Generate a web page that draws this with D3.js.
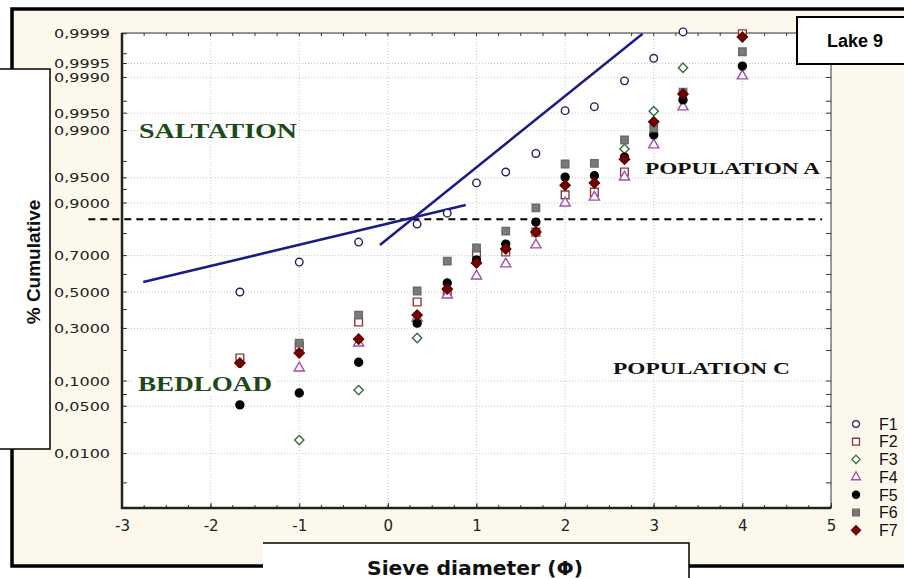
<!DOCTYPE html>
<html>
<head>
<meta charset="utf-8">
<script src="https://cdnjs.cloudflare.com/ajax/libs/d3/7.8.5/d3.min.js"></script>
<style>
  body { margin: 0; background: #fff; }
  svg { display: block; font-family: "Liberation Sans", Arial, sans-serif; }
</style>
</head>
<body>
<script>
// sieve classes (phi) and cumulative fractions per sample
var phi = [-1.67, -1, -0.33, 0.33, 0.67, 1, 1.33, 1.67, 2, 2.33, 2.67, 3, 3.33, 4];
var F1 = [0.50, 0.667, 0.764, 0.836, 0.872, 0.942, 0.958, 0.977, 0.9955, 0.9962, 0.99882, 0.99962, 0.99991, null];
var F2 = [0.171, 0.218, 0.333, 0.443, 0.50, 0.713, 0.718, 0.806, 0.919, 0.925, 0.958, null, null, 0.9999];
var F3 = [null, 0.0165, 0.079, 0.254, null, null, null, null, null, null, 0.9803, 0.9954, 0.99938, null];
var F4 = [null, 0.137, 0.231, 0.354, 0.483, 0.591, 0.657, 0.751, 0.900, 0.914, 0.951, 0.9829, 0.99616, 0.99907];
var F5 = [0.052, 0.073, 0.156, 0.327, 0.552, 0.678, 0.755, 0.843, 0.951, 0.953, 0.974, 0.9882, 0.99717, 0.99943];
var F6 = [null, 0.231, 0.370, 0.506, 0.672, 0.737, 0.810, 0.887, 0.9674, 0.968, 0.9857, 0.9909, 0.998, 0.99973];
var F7 = [0.153, 0.190, 0.249, 0.370, 0.517, 0.662, 0.732, 0.806, 0.938, 0.942, 0.972, 0.9929, 0.99783, 0.99988];
var seriesNames = ["F1", "F2", "F3", "F4", "F5", "F6", "F7"];

// y ticks (probability axis)
var yTicks = [0.9999, 0.9995, 0.999, 0.995, 0.99, 0.95, 0.9, 0.7, 0.5, 0.3, 0.1, 0.05, 0.01];
var yMinor = [0.9997, 0.997, 0.97, 0.93, 0.8, 0.6, 0.4, 0.2, 0.07, 0.03, 0.003];
var xTicks = [-3, -2, -1, 0, 1, 2, 3, 4, 5];

// fitted segments and threshold
var salLineX = [-2.76, 0.878];
var salLineP = [0.557, 0.895];
var popLineX = [-0.09, 2.874];
var popLineP = [0.751, 0.9999];
var dashX = [-3.38, 4.9];
var dashP = 0.853;

var svgWidth = 904;
var svgHeight = 578;

// inverse normal cdf (Acklam)
function probit(p) {
    var a = [-39.69683028665376, 220.9460984245205, -275.9285104469687, 138.3577518672690, -30.66479806614716, 2.506628277459239];
    var b = [-54.47609879822406, 161.5858368580409, -155.6989798598866, 66.80131188771972, -13.28068155288572];
    var c = [-0.007784894002430293, -0.3223964580411365, -2.400758277161838, -2.549732539343734, 4.374664141464968, 2.938163982698783];
    var d = [0.007784695709041462, 0.3224671290700398, 2.445134137142996, 3.754408661907416];
    var plow = 0.02425, q, r;
    if (p < plow) {
        q = Math.sqrt(-2 * Math.log(p));
        return (((((c[0]*q + c[1])*q + c[2])*q + c[3])*q + c[4])*q + c[5]) / ((((d[0]*q + d[1])*q + d[2])*q + d[3])*q + 1);
    }
    if (p <= 1 - plow) {
        q = p - 0.5; r = q * q;
        return (((((a[0]*r + a[1])*r + a[2])*r + a[3])*r + a[4])*r + a[5])*q / (((((b[0]*r + b[1])*r + b[2])*r + b[3])*r + b[4])*r + 1);
    }
    q = Math.sqrt(-2 * Math.log(1 - p));
    return -(((((c[0]*q + c[1])*q + c[2])*q + c[3])*q + c[4])*q + c[5]) / ((((d[0]*q + d[1])*q + d[2])*q + d[3])*q + 1);
}

var plot = { left: 122, right: 831, top: 33, bottom: 508 };

var xScale = d3.scaleLinear().domain([-3, 5]).range([plot.left, plot.right]);
var zScale = d3.scaleLinear().domain([-3.11, 3.73]).range([plot.bottom, plot.top]);
function yScale(p) { return zScale(probit(p)); }

var svg = d3.select("body").append("svg")
    .attr("width", svgWidth)
    .attr("height", svgHeight);

// outer beige frame
svg.append("rect")
    .attr("x", 12).attr("y", 9)
    .attr("width", 920).attr("height", 557)
    .attr("fill", "#fcf8ec")
    .attr("stroke", "#000")
    .attr("stroke-width", 3.5);

// plot background
svg.append("rect")
    .attr("x", plot.left).attr("y", plot.top)
    .attr("width", plot.right - plot.left).attr("height", plot.bottom - plot.top)
    .attr("fill", "#fff");

svg.append("clipPath").attr("id", "clip")
    .append("rect")
    .attr("x", plot.left).attr("y", plot.top)
    .attr("width", plot.right - plot.left).attr("height", plot.bottom - plot.top);

// grid
var grid = svg.append("g").attr("stroke", "#c8c8c8").attr("stroke-width", 1).attr("stroke-dasharray", "1,2");
grid.selectAll(".hg").data(yTicks).enter().append("line")
    .attr("x1", plot.left).attr("x2", plot.right)
    .attr("y1", d => yScale(d)).attr("y2", d => yScale(d));
grid.selectAll(".vg").data(xTicks.slice(1, -1)).enter().append("line")
    .attr("y1", plot.top).attr("y2", plot.bottom)
    .attr("x1", d => xScale(d)).attr("x2", d => xScale(d));

// axes
var minorX = d3.range(-3, 5.001, 0.25);
var bottomAxis = d3.axisBottom(xScale).tickValues(xTicks).tickSize(-5).tickPadding(12).tickFormat(d => String(d));
var xAxis = svg.append("g")
    .attr("transform", "translate(0," + plot.bottom + ")")
    .call(bottomAxis);
xAxis.select(".domain").remove();
xAxis.selectAll("text")
    .style("font-family", "'DejaVu Sans', Verdana, sans-serif")
    .style("font-size", "15px").attr("fill", "#222");
xAxis.selectAll("line").attr("stroke", "#333");

var tickG = svg.append("g").attr("stroke", "#333").attr("stroke-width", 1);
tickG.selectAll(".mb").data(minorX).enter().append("line")
    .attr("x1", d => xScale(d)).attr("x2", d => xScale(d))
    .attr("y1", plot.bottom).attr("y2", plot.bottom - 3);
tickG.selectAll(".mt").data(minorX).enter().append("line")
    .attr("x1", d => xScale(d)).attr("x2", d => xScale(d))
    .attr("y1", plot.top).attr("y2", plot.top + 3);
var allY = yTicks.concat(yMinor);
tickG.selectAll(".ml").data(allY).enter().append("line")
    .attr("x1", plot.left).attr("x2", plot.left + 5)
    .attr("y1", d => yScale(d)).attr("y2", d => yScale(d));
tickG.selectAll(".mr").data(allY).enter().append("line")
    .attr("x1", plot.right).attr("x2", plot.right - 5)
    .attr("y1", d => yScale(d)).attr("y2", d => yScale(d));

svg.append("g").selectAll("text").data(yTicks).enter().append("text")
    .attr("x", 54)
    .attr("y", d => yScale(d))
    .attr("dy", "0.36em")
    .attr("textLength", 56).attr("lengthAdjust", "spacingAndGlyphs")
    .style("font-family", "'DejaVu Sans', Verdana, sans-serif")
    .style("font-size", "13px")
    .attr("fill", "#222")
    .text(d => d.toFixed(4).replace(".", ","));

// plot border
svg.append("rect")
    .attr("x", plot.left).attr("y", plot.top)
    .attr("width", plot.right - plot.left).attr("height", plot.bottom - plot.top)
    .attr("fill", "none").attr("stroke", "#333").attr("stroke-width", 1);
svg.append("path")
    .attr("d", "M" + plot.left + "," + plot.top + "V" + plot.bottom + "H" + plot.right)
    .attr("fill", "none").attr("stroke", "#222").attr("stroke-width", 2.5);

// threshold
svg.append("line")
    .attr("x1", xScale(dashX[0])).attr("x2", xScale(dashX[1]))
    .attr("y1", yScale(dashP)).attr("y2", yScale(dashP))
    .attr("stroke", "#000").attr("stroke-width", 2)
    .attr("stroke-dasharray", "7,5");

// fitted lines
var fit = svg.append("g").attr("clip-path", "url(#clip)");
[[salLineX, salLineP], [popLineX, popLineP]].forEach(function(s) {
    fit.append("line")
        .attr("x1", xScale(s[0][0])).attr("y1", yScale(s[1][0]))
        .attr("x2", xScale(s[0][1])).attr("y2", yScale(s[1][1]))
        .attr("stroke", "#1a1a8a").attr("stroke-width", 2.5);
});

// marker styles
var styles = {
    F1: { type: d3.symbolCircle, size: 45, fill: "#fff", stroke: "#20205a" },
    F2: { type: d3.symbolSquare, size: 60, fill: "#fff", stroke: "#8a3a3a" },
    F3: { type: d3.symbolDiamond2, size: 55, fill: "#fff", stroke: "#3a6a3a" },
    F4: { type: d3.symbolTriangle, size: 45, fill: "#fff", stroke: "#a050a8" },
    F5: { type: d3.symbolCircle, size: 50, fill: "#000", stroke: "#000" },
    F6: { type: d3.symbolSquare, size: 55, fill: "#7a7a7a", stroke: "#6a6a6a" },
    F7: { type: d3.symbolDiamond2, size: 65, fill: "#7a0000", stroke: "#5a0000" }
};
var seriesData = { F1: F1, F2: F2, F3: F3, F4: F4, F5: F5, F6: F6, F7: F7 };

seriesNames.forEach(function(name) {
    var st = styles[name];
    var pts = phi.map((x, i) => ({ x: x, p: seriesData[name][i] })).filter(d => d.p != null);
    svg.append("g").selectAll("path").data(pts).enter().append("path")
        .attr("transform", d => "translate(" + xScale(d.x) + "," + yScale(d.p) + ")")
        .attr("d", d3.symbol().type(st.type).size(st.size))
        .attr("fill", st.fill).attr("stroke", st.stroke).attr("stroke-width", 1.4);
});

// annotations
function label(txt, x, y, len, size, color) {
    svg.append("text")
        .attr("x", x).attr("y", y)
        .attr("textLength", len).attr("lengthAdjust", "spacingAndGlyphs")
        .style("font-family", "'Liberation Serif', 'Times New Roman', serif")
        .style("font-weight", "bold")
        .style("font-size", size + "px")
        .attr("fill", color)
        .text(txt);
}
svg.append("rect").attr("x", 134).attr("y", 368).attr("width", 144).attr("height", 28).attr("fill", "#fff");
label("SALTATION", 139, 138, 158, 22, "#1e4a1a");
label("BEDLOAD", 138, 391, 134, 22, "#1e4a1a");
label("POPULATION A", 645, 174, 175, 17, "#111");
label("POPULATION C", 613, 374, 177, 17, "#111");

// legend
var legend = svg.append("g");
seriesNames.forEach(function(name, i) {
    var st = styles[name];
    var ly = 424 + i * 17.7;
    legend.append("path")
        .attr("transform", "translate(856," + ly + ")")
        .attr("d", d3.symbol().type(st.type).size(st.size * 0.8))
        .attr("fill", st.fill).attr("stroke", st.stroke).attr("stroke-width", 1.3);
    legend.append("text")
        .attr("x", 879).attr("y", ly).attr("dy", "0.36em")
        .style("font-size", "16px").attr("fill", "#111")
        .text(name);
});

// title box
svg.append("rect")
    .attr("x", 797).attr("y", 17).attr("width", 130).attr("height", 47)
    .attr("fill", "#fff").attr("stroke", "#000").attr("stroke-width", 2);
svg.append("text")
    .attr("x", 855).attr("y", 41).attr("dy", "0.36em")
    .attr("text-anchor", "middle")
    .style("font-size", "18px").style("font-weight", "bold")
    .text("Lake 9");

// y label box
svg.append("rect")
    .attr("x", -3).attr("y", 69).attr("width", 53).attr("height", 380)
    .attr("fill", "#fff").attr("stroke", "#000").attr("stroke-width", 1.5);
svg.append("text")
    .attr("transform", "translate(40,262) rotate(-90)")
    .attr("text-anchor", "middle")
    .style("font-size", "19px").style("font-weight", "bold")
    .attr("fill", "#111")
    .text("% Cumulative");

// x label box
svg.append("rect")
    .attr("x", 263).attr("y", 543).attr("width", 426).attr("height", 40)
    .attr("fill", "#fff");
svg.append("path")
    .attr("d", "M263,543H689V578")
    .attr("fill", "none").attr("stroke", "#000").attr("stroke-width", 1.5);
svg.append("text")
    .attr("x", 475).attr("y", 575)
    .attr("text-anchor", "middle")
    .attr("textLength", 216).attr("lengthAdjust", "spacingAndGlyphs")
    .style("font-family", "'DejaVu Sans', Verdana, sans-serif")
    .style("font-size", "19px").style("font-weight", "bold")
    .attr("fill", "#111")
    .text("Sieve diameter (\u03A6)");
</script>
</body>
</html>
